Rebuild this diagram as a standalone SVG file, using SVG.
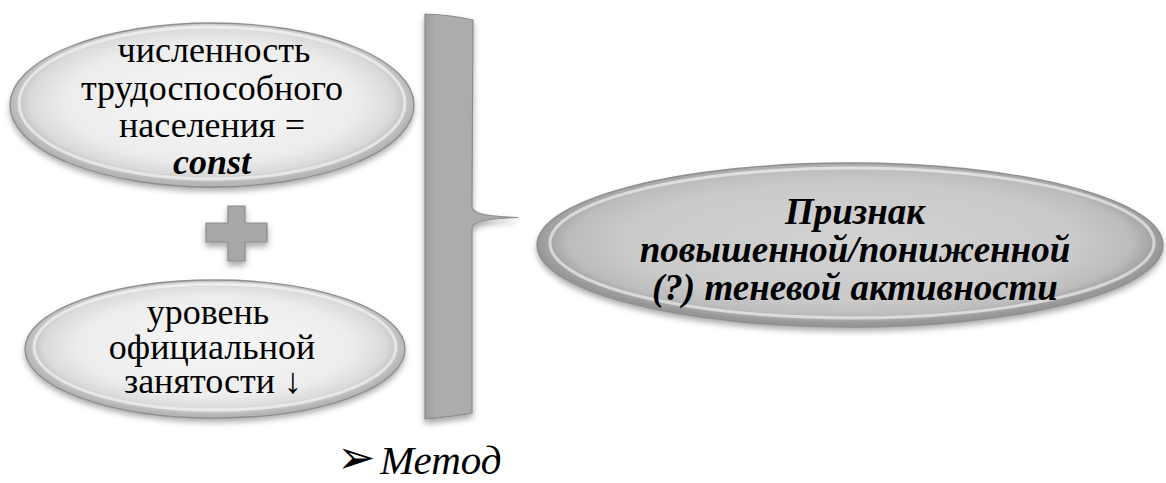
<svg xmlns="http://www.w3.org/2000/svg" width="1166" height="483" viewBox="0 0 1166 483">
<style>
.edge{fill:none;stroke:#8e8e8e;stroke-width:1.3}
.gloss{fill:none;stroke:#ffffff;stroke-opacity:0.55;stroke-width:3}
.tx{font-family:"Liberation Serif","Tinos","DejaVu Serif","Noto Serif",serif;fill:#000;text-anchor:middle}
</style>
<defs>
<radialGradient id="gl" cx="50%" cy="48%" r="50%">
<stop offset="0" stop-color="#f6f6f6"/>
<stop offset="0.72" stop-color="#ededed"/>
<stop offset="0.9" stop-color="#dadada"/>
<stop offset="1" stop-color="#b5b5b5"/>
</radialGradient>
<radialGradient id="gr" cx="50%" cy="48%" r="50%">
<stop offset="0" stop-color="#d2d2d2"/>
<stop offset="0.72" stop-color="#cacaca"/>
<stop offset="0.9" stop-color="#bcbcbc"/>
<stop offset="1" stop-color="#979797"/>
</radialGradient>
<linearGradient id="bar" x1="0" y1="0" x2="1" y2="0">
<stop offset="0" stop-color="#9c9c9c"/>
<stop offset="0.12" stop-color="#adadad"/>
<stop offset="0.9" stop-color="#aaaaaa"/>
<stop offset="1" stop-color="#959595"/>
</linearGradient>
<filter id="sh" x="-10%" y="-10%" width="120%" height="130%">
<feDropShadow dx="0" dy="4" stdDeviation="3" flood-color="#000" flood-opacity="0.35"/>
</filter>
</defs>

<g id="node-top">
<ellipse cx="212" cy="105" rx="202" ry="82" fill="url(#gl)" filter="url(#sh)"/>
<ellipse cx="212" cy="105" rx="202" ry="82" class="edge"/>
<ellipse cx="212" cy="103" rx="193" ry="76" class="gloss"/>
<g class="tx" font-size="36">
<text x="214" y="62">численность</text>
<text x="212" y="100">трудоспособного</text>
<text x="212" y="137">населения =</text>
<text x="212" y="174" font-weight="bold" font-style="italic">const</text>
</g>
</g>

<g id="plus">
<path d="M228,206 H245 V223 H267 V242 H245 V261 H228 V242 H206 V223 H228 Z" fill="#a8a8a8" stroke="#8a8a8a" stroke-width="1.2" filter="url(#sh)"/>
</g>

<g id="node-bottom">
<ellipse cx="215" cy="349" rx="190" ry="69" fill="url(#gl)" filter="url(#sh)"/>
<ellipse cx="215" cy="349" rx="190" ry="69" class="edge"/>
<ellipse cx="215" cy="347" rx="181" ry="63" class="gloss"/>
<g class="tx" font-size="36">
<text x="208" y="324">уровень</text>
<text x="212" y="359">официальной</text>
<text x="213" y="393">занятости ↓</text>
</g>
</g>

<g id="connectors">
<path d="M425,14 Q452,15 473,20 L472,207 C473,214 488,216.5 518,217.5 C488,218.5 473,221 472,228 L472,413 Q450,417 425,419 Z" fill="url(#bar)" stroke="#8a8a8a" stroke-width="1.2" filter="url(#sh)"/>
</g>

<g id="node-right">
<ellipse cx="850" cy="245" rx="313" ry="82" fill="url(#gr)" filter="url(#sh)"/>
<ellipse cx="850" cy="245" rx="313" ry="82" class="edge"/>
<ellipse cx="852" cy="243" rx="302" ry="75" class="gloss"/>
<g class="tx" font-size="37" font-weight="bold" font-style="italic">
<text x="855" y="224">Признак</text>
<text x="855" y="262">повышенной/пониженной</text>
<text x="855" y="300">(?) теневой активности</text>
</g>
</g>

<g id="method">
<text x="337" y="473" font-family="'DejaVu Sans', sans-serif" font-size="46" fill="#000">➢</text>
<text x="380" y="474" class="tx" font-size="41" font-style="italic" style="text-anchor:start">Метод</text>
</g>
</svg>
